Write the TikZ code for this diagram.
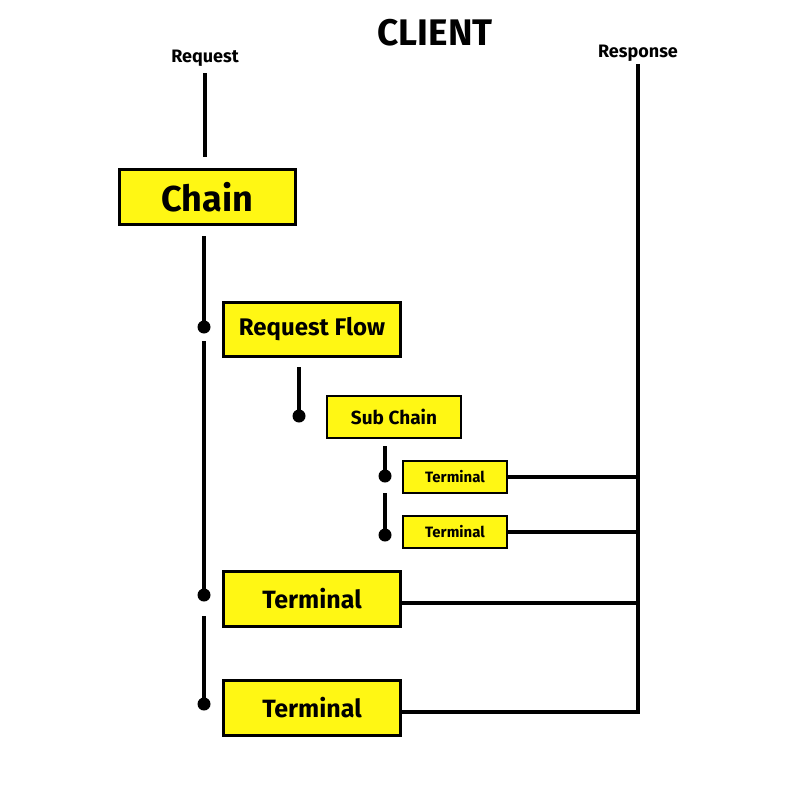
\documentclass[tikz,border=0pt]{standalone}
\usepackage{fontspec}
\setmainfont{Fira Sans}
\definecolor{boxyellow}{RGB}{255,247,20}
\tikzset{
  block/.style={draw,line width=3pt,fill=boxyellow,inner sep=0pt,font=\bfseries},
  wire/.style={line width=4pt},
  pin/.style={circle,fill=black,inner sep=0pt,minimum size=13pt},
  tag/.style={font=\bfseries}
}
\begin{document}
\begin{tikzpicture}[x=1pt,y=-1pt]
  \useasboundingbox (0,0) rectangle (800,800);

  \node [tag,font=\bfseries\fontsize{37}{40}\selectfont] (client) at (435,33) {CLIENT};
  \node [tag,font=\bfseries\fontsize{18}{20}\selectfont] (reqlabel) at (205,58) {Request};
  \node [tag,font=\bfseries\fontsize{18}{20}\selectfont] (resplabel) at (638,53) {Response};

  \node [block,minimum width=176pt,minimum height=55pt,font=\bfseries\fontsize{36}{40}\selectfont] (chain) at (207.5,197) {Chain};
  \node [block,minimum width=177pt,minimum height=54pt,font=\bfseries\fontsize{24}{28}\selectfont] (flow) at (312,329.5) {Request Flow};
  \node [block,line width=2.5pt,minimum width=134pt,minimum height=42pt,font=\bfseries\fontsize{19}{22}\selectfont] (sub) at (394,417) {Sub Chain};
  \node [block,line width=2pt,minimum width=104pt,minimum height=32pt,font=\bfseries\fontsize{15}{18}\selectfont] (term1) at (455,477) {Terminal};
  \node [block,line width=2pt,minimum width=104pt,minimum height=32pt,font=\bfseries\fontsize{15}{18}\selectfont] (term2) at (455,532) {Terminal};
  \node [block,minimum width=177pt,minimum height=55pt,font=\bfseries\fontsize{25}{28}\selectfont] (term3) at (312,599) {Terminal};
  \node [block,minimum width=177pt,minimum height=55pt,font=\bfseries\fontsize{25}{28}\selectfont] (term4) at (312,708) {Terminal};

  % pins
  \node [pin] (p1) at (204,327) {};
  \node [pin] (p2) at (299,416) {};
  \node [pin] (p3) at (385,476) {};
  \node [pin] (p3b) at (385,535) {};
  \node [pin] (p4) at (204,595) {};
  \node [pin] (p5) at (204,704) {};

  \coordinate (req) at (205,73);
  \coordinate (resp) at (638,64);
  \coordinate (out3) at ([yshift=-4pt]term3.east);
  \coordinate (out4) at ([yshift=-4pt]term4.east);

  \draw [wire] (req) -- ([yshift=11pt]req |- chain.north);
  \draw [wire] ([yshift=-10pt]p1 |- chain.south) -- (p1.center);
  \draw [wire] ([yshift=-14pt]p1.center) -- (p4.center);
  \draw [wire] ([yshift=-21pt]p4.center) -- (p5.center);
  \draw [wire] ([yshift=-9pt]p2 |- flow.south) -- (p2.center);
  \draw [wire] ([yshift=-7pt]p3 |- sub.south) -- (p3.center);
  \draw [wire] ([yshift=-17pt]p3.center) -- (p3b.center);

  % response side
  \draw [wire] (resp) |- (out4);
  \draw [wire] (term1.east) -- (resp |- term1.east);
  \draw [wire] (term2.east) -- (resp |- term2.east);
  \draw [wire] (out3) -- (resp |- out3);
\end{tikzpicture}
\end{document}
